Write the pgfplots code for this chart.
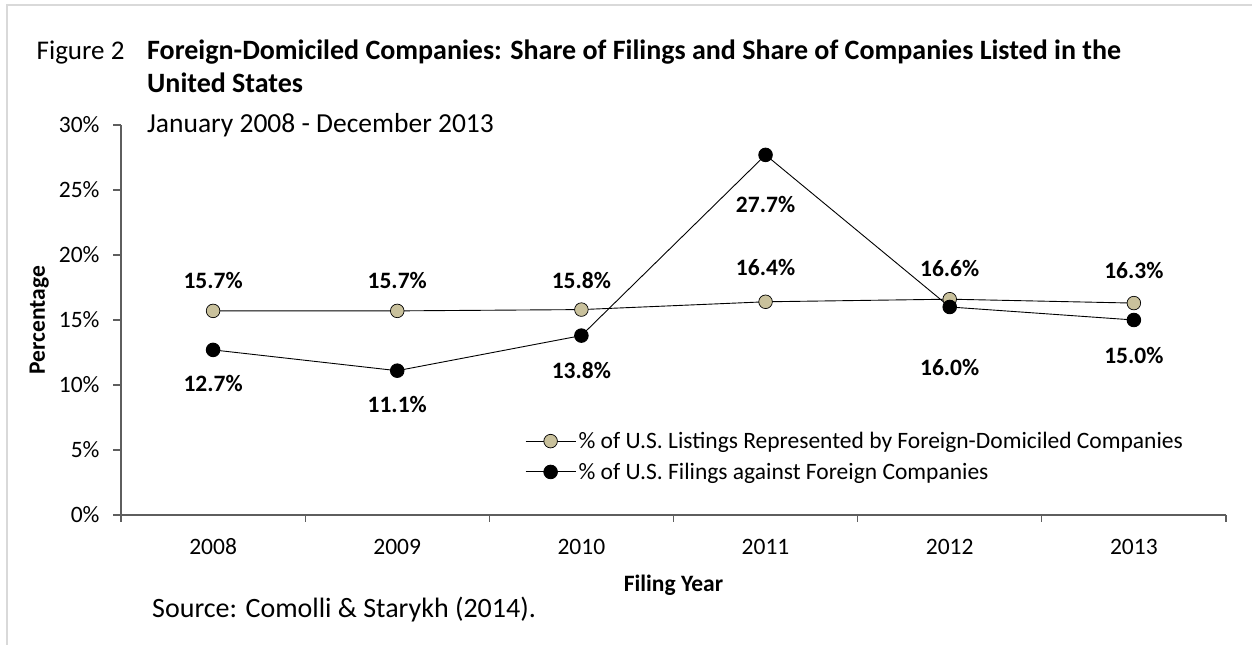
\documentclass[border=0pt]{standalone}
\usepackage{pgfplots}
\pgfplotsset{compat=1.18}
\usepackage{fontspec}
\setmainfont{Carlito}
\definecolor{tanfill}{HTML}{C9C19C}
\definecolor{axgray}{HTML}{5E5E5E}
\definecolor{bordergray}{HTML}{D9D9D9}
\newcommand{\fs}{\fontsize{23.5bp}{28bp}\selectfont}
\newcommand{\fst}{\fontsize{27bp}{33bp}\selectfont}
\begin{document}
\begin{tikzpicture}[x=1bp,y=1bp,font=\fs]
\useasboundingbox (0,0) rectangle (1252,645);
\draw[bordergray,line width=1.5bp] (7,0) -- (7,640) -- (1252,640);
\begin{axis}[
  at={(121bp,130bp)}, anchor=south west,
  scale only axis, width=1105bp, height=390bp,
  xmin=-0.5, xmax=5.5, ymin=0, ymax=30,
  axis x line*=bottom, axis y line*=left,
  axis line style={-, axgray, line width=1.3bp},
  xtick={0,...,5}, xticklabels={2008,2009,2010,2011,2012,2013},
  major x tick style={draw=none},
  minor xtick={-0.5,0.5,...,5.5},
  minor tick length=7bp,
  ytick={0,5,...,30},
  yticklabel={\pgfmathprintnumber{\tick}\%},
  /pgf/number format/assume math mode=true,
  tick align=outside, major tick length=8bp,
  tick style={axgray, line width=1.3bp},
  xticklabel style={anchor=base, yshift=-32bp},
  yticklabel style={anchor=east, xshift=-10bp},
  ticklabel style={font=\fs},
  xlabel={\textbf{Filing Year}}, ylabel={\textbf{Percentage}},
  xlabel style={font=\fs, at={(axis description cs:0.5,-0.1974)}, anchor=base},
  ylabel style={font=\fs, at={(axis description cs:-0.0688,0.5)}, anchor=base, rotate=0},
  clip=false,
  legend cell align=left,
  legend style={at={(0.3656,0.2153)}, anchor=north west, draw=none, fill=none,
    font=\fs, inner xsep=0pt, inner ysep=0pt, row sep=11bp,
    nodes={inner xsep=2.5bp, inner ysep=1bp}},
  legend image code/.code={%
    \draw[mark repeat=2,mark phase=2] plot coordinates {(0bp,0bp) (25bp,0bp) (50bp,0bp)};},
  nodes near coords={\textbf{\pgfmathprintnumber[fixed,fixed zerofill,precision=1]{\pgfplotspointmeta}\%}},
  every node near coord/.append style={font=\fs, anchor=center, inner sep=0pt},
  visualization depends on={\thisrow{off} \as \off},
  every node near coord/.append style={yshift=\off bp},
]
\addplot[black, line width=0.9bp, mark=*, mark size=6.8bp,
  mark options={fill=tanfill, draw=black, line width=0.7bp}]
  table[x=x,y=y] {
x y off
0 15.7 30
1 15.7 30
2 15.8 29
3 16.4 34
4 16.6 31
5 16.3 33
};
\addlegendentry{\% of U.S. Listings Represented by Foreign-Domiciled Companies}
\addplot[black, line width=0.9bp, mark=*, mark size=6.8bp,
  mark options={fill=black, draw=black}]
  table[x=x,y=y] {
x y off
0 12.7 -34
1 11.1 -34
2 13.8 -35
3 27.7 -50
4 16.0 -61
5 15.0 -36
};
\addlegendentry{\% of U.S. Filings against Foreign Companies}
\end{axis}
\node[anchor=base west, inner sep=0pt, font=\fst] at (36.5,585) {Figure 2};
\node[anchor=base west, inner sep=0pt, font=\fontsize{28bp}{33bp}\selectfont\bfseries] at (147,585)
  {Foreign-Domiciled Companies: Share of Filings and Share of Companies Listed in the};
\node[anchor=base west, inner sep=0pt, font=\fontsize{28bp}{33bp}\selectfont\bfseries] at (147,552) {United States};
\node[anchor=base west, inner sep=0pt, font=\fontsize{27.5bp}{33bp}\selectfont] at (147,512) {January 2008 - December 2013};
\node[anchor=base west, inner sep=0pt, font=\fontsize{28bp}{33bp}\selectfont] at (152,27) {Source: Comolli \& Starykh (2014).};
\end{tikzpicture}
\end{document}
